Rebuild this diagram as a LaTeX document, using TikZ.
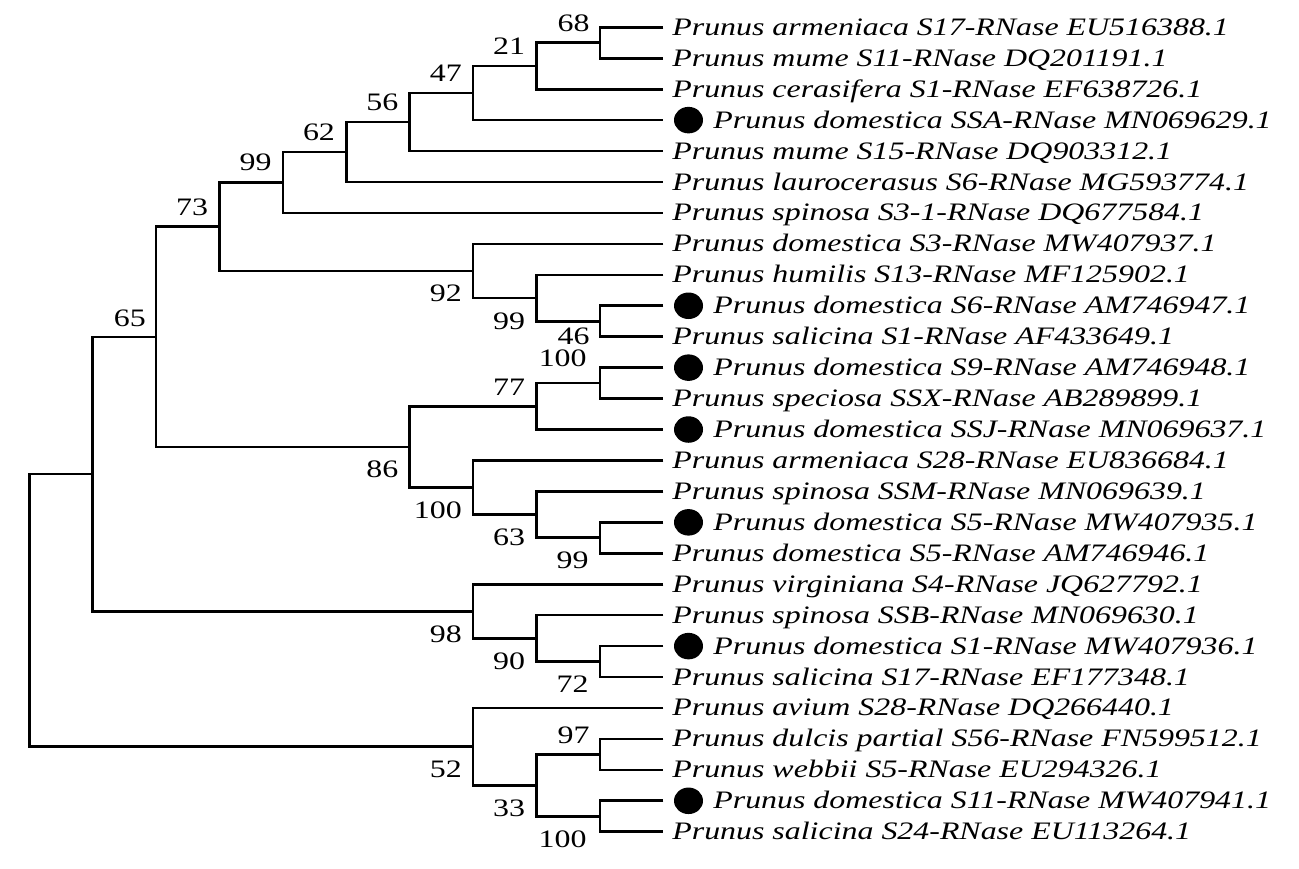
\documentclass[tikz,border=0pt]{standalone}
\usepackage{fontspec}
\setmainfont{Liberation Serif}[FakeStretch=1.27]
\usetikzlibrary{shapes.geometric}
\begin{document}
\begin{tikzpicture}[x=0.02cm,y=-0.02cm,
  br/.style={line width=1.5pt, line join=miter},
  lf/.style={anchor=base west, inner sep=0pt, font=\fontsize{14.3}{16}\selectfont\itshape},
  bsa/.style={anchor=south east, inner sep=0pt, font=\fontsize{14.3}{16}\selectfont},
  bsb/.style={anchor=north east, inner sep=0pt, font=\fontsize{14.3}{16}\selectfont},
  mark dot/.style={ellipse, fill=black, inner sep=0pt, minimum width=0.58cm, minimum height=0.53cm}]
\useasboundingbox (0,0) rectangle (1299,869);
% leaf ends
\coordinate (l1) at (663.3,27.3);
\coordinate (l2) at (663.3,58.24);
\coordinate (l3) at (663.3,89.18);
\coordinate (l4) at (663.3,120.12);
\coordinate (l5) at (663.3,151.06);
\coordinate (l6) at (663.3,182.0);
\coordinate (l7) at (663.3,212.94);
\coordinate (l8) at (663.3,243.88);
\coordinate (l9) at (663.3,274.82);
\coordinate (l10) at (663.3,305.76);
\coordinate (l11) at (663.3,336.7);
\coordinate (l12) at (663.3,367.64);
\coordinate (l13) at (663.3,398.58);
\coordinate (l14) at (663.3,429.52);
\coordinate (l15) at (663.3,460.46);
\coordinate (l16) at (663.3,491.4);
\coordinate (l17) at (663.3,522.34);
\coordinate (l18) at (663.3,553.28);
\coordinate (l19) at (663.3,584.22);
\coordinate (l20) at (663.3,615.16);
\coordinate (l21) at (663.3,646.1);
\coordinate (l22) at (663.3,677.04);
\coordinate (l23) at (663.3,707.98);
\coordinate (l24) at (663.3,738.92);
\coordinate (l25) at (663.3,769.86);
\coordinate (l26) at (663.3,800.8);
\coordinate (l27) at (663.3,831.74);
% internal nodes
\coordinate (A) at (599.9,42.77);
\coordinate (B) at (536.5,65.98);
\coordinate (C) at (473.1,93.05);
\coordinate (D) at (409.7,122.06);
\coordinate (E) at (346.3,152.03);
\coordinate (F) at (282.9,182.49);
\coordinate (J) at (599.9,321.23);
\coordinate (I) at (536.5,298.03);
\coordinate (H) at (473.1,270.96);
\coordinate (G) at (219.5,226.72);
\coordinate (N) at (599.9,383.11);
\coordinate (L) at (536.5,406.32);
\coordinate (P) at (599.9,537.81);
\coordinate (O) at (536.5,514.61);
\coordinate (M) at (473.1,487.54);
\coordinate (K) at (409.7,446.93);
\coordinate (Q) at (156.1,336.83);
\coordinate (T) at (599.9,661.57);
\coordinate (S) at (536.5,638.37);
\coordinate (R) at (473.1,611.3);
\coordinate (Q1) at (92.7,474.07);
\coordinate (W) at (599.9,754.39);
\coordinate (X) at (599.9,816.27);
\coordinate (V) at (536.5,785.33);
\coordinate (U) at (473.1,746.66);
\coordinate (root) at (29.3,610.4);
% branches
\draw[br] (l1) -| (A) |- (l2);
\draw[br] (A) -| (B) |- (l3);
\draw[br] (B) -| (C) |- (l4);
\draw[br] (C) -| (D) |- (l5);
\draw[br] (D) -| (E) |- (l6);
\draw[br] (E) -| (F) |- (l7);
\draw[br] (l10) -| (J) |- (l11);
\draw[br] (l9) -| (I) |- (J);
\draw[br] (l8) -| (H) |- (I);
\draw[br] (F) -| (G) |- (H);
\draw[br] (l12) -| (N) |- (l13);
\draw[br] (N) -| (L) |- (l14);
\draw[br] (l17) -| (P) |- (l18);
\draw[br] (l16) -| (O) |- (P);
\draw[br] (l15) -| (M) |- (O);
\draw[br] (L) -| (K) |- (M);
\draw[br] (G) -| (Q) |- (K);
\draw[br] (l21) -| (T) |- (l22);
\draw[br] (l20) -| (S) |- (T);
\draw[br] (l19) -| (R) |- (S);
\draw[br] (Q) -| (Q1) |- (R);
\draw[br] (l24) -| (W) |- (l25);
\draw[br] (l26) -| (X) |- (l27);
\draw[br] (W) -| (V) |- (X);
\draw[br] (l23) -| (U) |- (V);
\draw[br] (Q1) -| (root) |- (U);
% bootstrap values
\node[bsa] (bA) at (589.9,31.77) {68};
\node[bsa] (bB) at (525.5,54.98) {21};
\node[bsa] (bC) at (462.1,82.05) {47};
\node[bsa] (bD) at (398.7,111.06) {56};
\node[bsa] (bE) at (335.3,141.03) {62};
\node[bsa] (bF) at (271.9,171.49) {99};
\node[bsa] (bG) at (208.5,215.72) {73};
\node[bsa] (bQ) at (146.1,326.83) {65};
\node[bsb] (bH) at (462.1,284.96) {92};
\node[bsb] (bI) at (525.5,312.03) {99};
\node[bsb] (bJ) at (589.9,328) {46};
\node[bsa] (bN) at (587,367) {100};
\node[bsa] (bL) at (525.5,396.32) {77};
\node[bsb] (bK) at (398.7,460.93) {86};
\node[bsb] (bM) at (462.1,501.54) {100};
\node[bsb] (bO) at (525.5,528.61) {63};
\node[bsb] (bP) at (588.9,551.81) {99};
\node[bsb] (bR) at (462.1,625.3) {98};
\node[bsb] (bS) at (525.5,652.37) {90};
\node[bsb] (bT) at (588.9,675.57) {72};
\node[bsa] (bW) at (589.9,744.39) {97};
\node[bsb] (bV) at (525.5,799.33) {33};
\node[bsb] (bU) at (462.1,760.66) {52};
\node[bsb] (bX) at (586.9,830.27) {100};
% leaf names
\node[lf] (t1) at (672,35.3) {Prunus armeniaca S17-RNase EU516388.1};
\node[lf] (t2) at (672,66.24) {Prunus mume S11-RNase DQ201191.1};
\node[lf] (t3) at (672,97.18) {Prunus cerasifera S1-RNase EF638726.1};
\node[mark dot] (d4) at (688.5,120.12) {};
\node[lf] (t4) at (713,128.12) {Prunus domestica SSA-RNase MN069629.1};
\node[lf] (t5) at (672,159.06) {Prunus mume S15-RNase DQ903312.1};
\node[lf] (t6) at (672,190.0) {Prunus laurocerasus S6-RNase MG593774.1};
\node[lf] (t7) at (672,220.94) {Prunus spinosa S3-1-RNase DQ677584.1};
\node[lf] (t8) at (672,251.88) {Prunus domestica S3-RNase MW407937.1};
\node[lf] (t9) at (672,282.82) {Prunus humilis S13-RNase MF125902.1};
\node[mark dot] (d10) at (688.5,305.76) {};
\node[lf] (t10) at (713,313.76) {Prunus domestica S6-RNase AM746947.1};
\node[lf] (t11) at (672,344.7) {Prunus salicina S1-RNase AF433649.1};
\node[mark dot] (d12) at (688.5,367.64) {};
\node[lf] (t12) at (713,375.64) {Prunus domestica S9-RNase AM746948.1};
\node[lf] (t13) at (672,406.58) {Prunus speciosa SSX-RNase AB289899.1};
\node[mark dot] (d14) at (688.5,429.52) {};
\node[lf] (t14) at (713,437.52) {Prunus domestica SSJ-RNase MN069637.1};
\node[lf] (t15) at (672,468.46) {Prunus armeniaca S28-RNase EU836684.1};
\node[lf] (t16) at (672,499.4) {Prunus spinosa SSM-RNase MN069639.1};
\node[mark dot] (d17) at (688.5,522.34) {};
\node[lf] (t17) at (713,530.34) {Prunus domestica S5-RNase MW407935.1};
\node[lf] (t18) at (672,561.28) {Prunus domestica S5-RNase AM746946.1};
\node[lf] (t19) at (672,592.22) {Prunus virginiana S4-RNase JQ627792.1};
\node[lf] (t20) at (672,623.16) {Prunus spinosa SSB-RNase MN069630.1};
\node[mark dot] (d21) at (688.5,646.1) {};
\node[lf] (t21) at (713,654.1) {Prunus domestica S1-RNase MW407936.1};
\node[lf] (t22) at (672,685.04) {Prunus salicina S17-RNase EF177348.1};
\node[lf] (t23) at (672,715.98) {Prunus avium S28-RNase DQ266440.1};
\node[lf] (t24) at (672,746.92) {Prunus dulcis partial S56-RNase FN599512.1};
\node[lf] (t25) at (672,777.86) {Prunus webbii S5-RNase EU294326.1};
\node[mark dot] (d26) at (688.5,800.8) {};
\node[lf] (t26) at (713,808.8) {Prunus domestica S11-RNase MW407941.1};
\node[lf] (t27) at (672,839.74) {Prunus salicina S24-RNase EU113264.1};
\end{tikzpicture}
\end{document}
